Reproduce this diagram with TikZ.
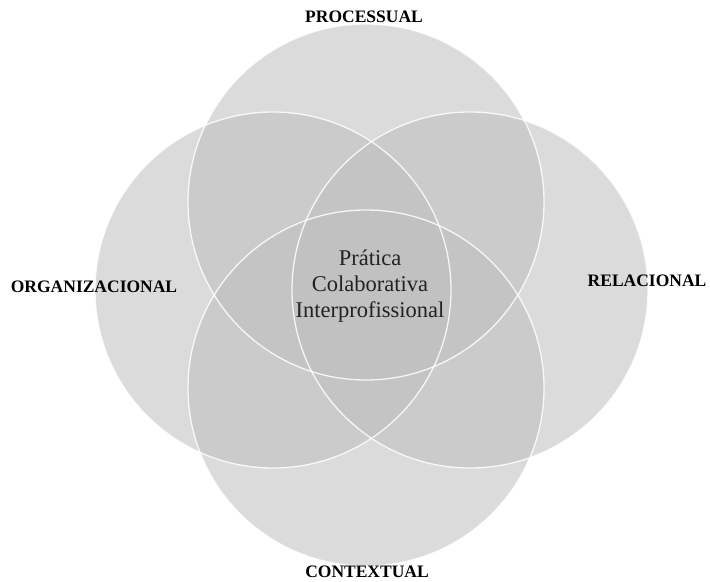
\documentclass[tikz,border=0pt]{standalone}
\usepackage{fontspec}
\setmainfont{Liberation Serif}
\begin{document}
\begin{tikzpicture}[x=1bp, y=-1bp,
    venn/.style={circle, minimum size=356bp, inner sep=0pt, fill={rgb,255:red,190;green,190;blue,190}, fill opacity=0.55},
    vennline/.style={draw=white, line width=1.3bp, opacity=0.85},
    dim/.style={font=\fontsize{17.5bp}{20bp}\selectfont\bfseries, text=black}]
    \useasboundingbox (0,0) rectangle (710,582);

    \node[venn] (processual) at (366,202) {};
    \node[venn] (organizacional) at (273,290) {};
    \node[venn] (relacional) at (470,290) {};
    \node[venn] (contextual) at (366,388) {};

    \foreach \c in {processual, organizacional, relacional, contextual}
        \draw[vennline] (\c.center) circle[radius=178bp];

    \node[dim] (lproc) at (364,17) {PROCESSUAL};
    \node[dim] (lorg) at (94,287) {ORGANIZACIONAL};
    \node[dim] (lrel) at (647,281) {RELACIONAL};
    \node[dim] (lcont) at (367,572) {CONTEXTUAL};

    \node[align=center, font=\fontsize{22.5bp}{26bp}\selectfont, text={rgb,255:red,34;green,34;blue,34}] (pratica) at (370,286) {Prática\\Colaborativa\\Interprofissional};
\end{tikzpicture}
\end{document}
